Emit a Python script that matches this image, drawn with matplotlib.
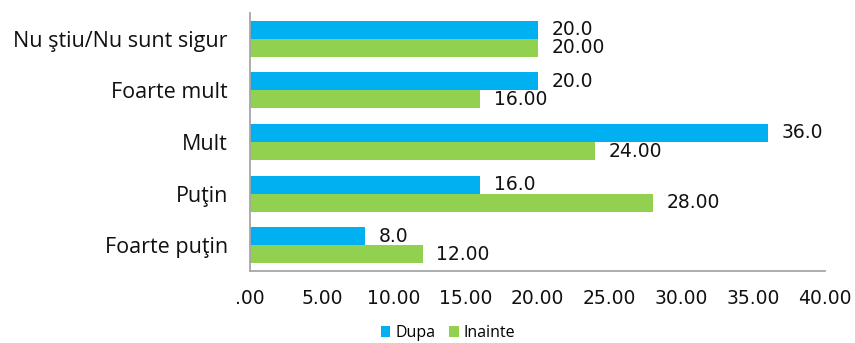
import numpy as np
import matplotlib
matplotlib.use("Agg")
import matplotlib.pyplot as plt

# survey answers, top to bottom
categories = ["Nu ştiu/Nu sunt sigur", "Foarte mult", "Mult", "Puţin", "Foarte puţin"]
dupa = [20.0, 20.0, 36.0, 16.0, 8.0]
inainte = [20.0, 16.0, 24.0, 28.0, 12.0]
xticks = [0, 5, 10, 15, 20, 25, 30, 35, 40]
xtick_labels = [".00", "5.00", "10.00", "15.00", "20.00", "25.00", "30.00", "35.00", "40.00"]

BLUE = "#00B0F0"
GREEN = "#92D050"
label_font = ["Open Sans", "DejaVu Sans"]
num_font = "DejaVu Sans"

fig = plt.figure(figsize=(8.55, 3.43), dpi=100)
ax = fig.add_axes([250 / 855, 72 / 343, 575 / 855, 258 / 343])

y = np.arange(len(categories))
h = 0.35
b1 = ax.barh(y - h / 2, dupa, height=h, color=BLUE, label="Dupa")
b2 = ax.barh(y + h / 2, inainte, height=h, color=GREEN, label="Inainte")

for bar, v in zip(b1, dupa):
    ax.annotate(f"{v:.1f}", (bar.get_width(), bar.get_y() + bar.get_height() / 2),
                xytext=(10, 0), textcoords="offset points", va="center", ha="left",
                fontsize=13.5, family=num_font, color="#111111")
for bar, v in zip(b2, inainte):
    ax.annotate(f"{v:.2f}", (bar.get_width(), bar.get_y() + bar.get_height() / 2),
                xytext=(10, 0), textcoords="offset points", va="center", ha="left",
                fontsize=13.5, family=num_font, color="#111111")

ax.set_ylim(len(categories) - 0.5, -0.5)
ax.set_xlim(0, 40)
ax.set_yticks(y)
ax.set_yticklabels(categories, fontsize=15.5, family=label_font, color="#111111")
ax.set_xticks(xticks)
ax.set_xticklabels(xtick_labels, fontsize=13.5, family=num_font, color="#111111")
ax.tick_params(axis="y", length=0, pad=16)
ax.tick_params(axis="x", length=0, pad=13)

for s in ["top", "right"]:
    ax.spines[s].set_visible(False)
for s in ["left", "bottom"]:
    ax.spines[s].set_color("#A6A6A6")
    ax.spines[s].set_linewidth(1.3)

fig.legend(handles=[b1, b2], loc="center", bbox_to_anchor=(448 / 855, 1 - 333 / 343),
           ncol=2, frameon=False, handlelength=0.6, handleheight=0.7,
           handletextpad=0.3, columnspacing=0.9,
           prop={"family": label_font, "size": 11.5})

fig.savefig("out.png", dpi=100)
